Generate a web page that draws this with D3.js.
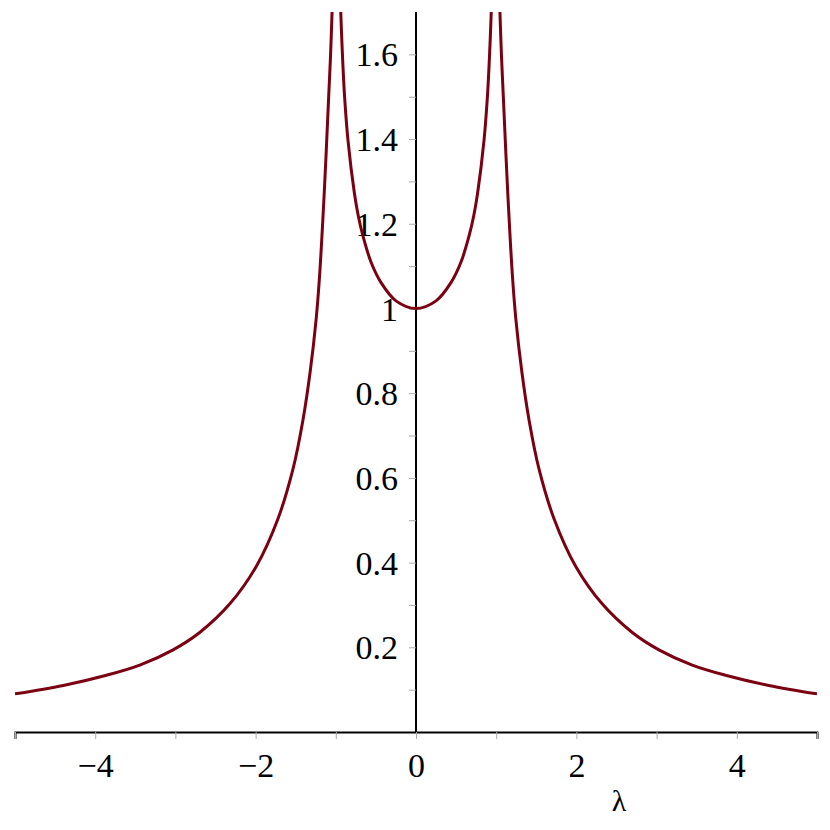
<!DOCTYPE html>
<html>
<head>
<meta charset="utf-8">
<script src="https://cdn.jsdelivr.net/npm/d3@7"></script>
<style>
  body { margin: 0; background: #fff; }
</style>
</head>
<body>
<div id="chart"></div>
<script>
// values (the curve is symmetric about lambda = 0)
// left outer branch (lambda < -1)
const leftLambda = [-5.0, -4.398, -3.859, -3.444, -3.029, -2.697, -2.324, -1.992, -1.722, -1.535, -1.411, -1.32, -1.245, -1.203, -1.141, -1.087, -1.065, -1.045]
const leftValue  = [0.090, 0.110, 0.134, 0.158, 0.194, 0.235, 0.302, 0.391, 0.503, 0.620, 0.735, 0.850, 0.975, 1.075, 1.285, 1.508, 1.600, 1.709]
// middle branch (-1 < lambda < 1)
const midLambda = [-0.940, -0.922, -0.893, -0.848, -0.768, -0.72, -0.664, -0.56, -0.436, -0.25, 0, 0.25, 0.436, 0.56, 0.664, 0.72, 0.768, 0.848, 0.893, 0.922, 0.940]
const midValue  = [1.709, 1.620, 1.508, 1.397, 1.272, 1.219, 1.173, 1.109, 1.061, 1.018, 1.0, 1.018, 1.061, 1.109, 1.173, 1.219, 1.272, 1.397, 1.508, 1.620, 1.709]
// right outer branch (lambda > 1)
const rightLambda = [1.045, 1.065, 1.087, 1.141, 1.203, 1.245, 1.32, 1.411, 1.535, 1.722, 1.992, 2.324, 2.697, 3.029, 3.444, 3.859, 4.398, 5.0]
const rightValue  = [1.709, 1.600, 1.508, 1.285, 1.075, 0.975, 0.850, 0.735, 0.620, 0.503, 0.391, 0.302, 0.235, 0.194, 0.158, 0.134, 0.110, 0.090]

const xTicks = [-5, -4, -3, -2, -1, 0, 1, 2, 3, 4, 5]
const xLabels = [-4, -2, 0, 2, 4]
const yTicks = [0.1, 0.2, 0.3, 0.4, 0.5, 0.6, 0.7, 0.8, 0.9, 1, 1.1, 1.2, 1.3, 1.4, 1.5, 1.6]
const yLabels = [0.2, 0.4, 0.6, 0.8, 1, 1.2, 1.4, 1.6]

const width = 830
const height = 830
const font = "'Times New Roman', Times, 'Liberation Serif', Tinos, 'DejaVu Serif', 'Noto Serif', serif"

const svg = d3.select("#chart")
  .append("svg")
  .attr("width", width)
  .attr("height", height)

const x = d3.scaleLinear().domain([-5, 5]).range([15, 817])
const y = d3.scaleLinear().domain([0, 1.7]).range([732, 12])

const fmt = d => (d < 0 ? "\u2212" + Math.abs(d) : String(d))

// x axis
const xAxis = svg.append("g")
  .attr("transform", `translate(0,${y(0)})`)
  .call(d3.axisBottom(x)
    .tickValues(xTicks)
    .tickSize(7)
    .tickPadding(8)
    .tickFormat(d => xLabels.includes(d) ? fmt(d) : ""))
xAxis.attr("font-family", font)
xAxis.select(".domain").attr("stroke", "#000").attr("stroke-width", 2)
xAxis.selectAll(".tick line").attr("stroke", "#aaa").attr("stroke-width", 1)
xAxis.selectAll(".tick text")
  .attr("fill", "#000")
  .style("font-family", font)
  .attr("font-size", 34)
  .attr("y", 45)
  .attr("dy", 0)

// y axis
const yAxis = svg.append("g")
  .attr("transform", `translate(${x(0)},0)`)
  .call(d3.axisLeft(y)
    .tickValues(yTicks)
    .tickSize(7)
    .tickPadding(11)
    .tickFormat(d => yLabels.some(v => Math.abs(v - d) < 1e-9) ? String(d) : ""))
yAxis.attr("font-family", font)
yAxis.select(".domain").attr("stroke", "#000").attr("stroke-width", 2)
  .attr("d", `M0,${y(1.7)}V${y(0)}`)
yAxis.selectAll(".tick line").attr("stroke", "#aaa").attr("stroke-width", 1)
yAxis.selectAll(".tick text")
  .attr("fill", "#000")
  .style("font-family", font)
  .attr("font-size", 34)
  .attr("dy", "0.34em")

// axis label
svg.append("text")
  .attr("x", 619)
  .attr("y", 811)
  .attr("text-anchor", "middle")
  .style("font-family", font)
  .attr("font-size", 30)
  .text("λ")

// clip to plotting region
svg.append("clipPath").attr("id", "clip")
  .append("rect")
  .attr("x", x(-5)).attr("y", y(1.7))
  .attr("width", x(5) - x(-5)).attr("height", y(0) - y(1.7))

const line = d3.line()
  .x(d => x(d[0]))
  .y(d => y(d[1]))
  .curve(d3.curveCatmullRom.alpha(0.5))

const branches = [
  d3.zip(leftLambda, leftValue),
  d3.zip(midLambda, midValue),
  d3.zip(rightLambda, rightValue)
]

svg.append("g")
  .attr("clip-path", "url(#clip)")
  .selectAll("path")
  .data(branches)
  .join("path")
  .attr("d", line)
  .attr("fill", "none")
  .attr("stroke", "#7a0012")
  .attr("stroke-width", 3)
</script>
</body>
</html>
